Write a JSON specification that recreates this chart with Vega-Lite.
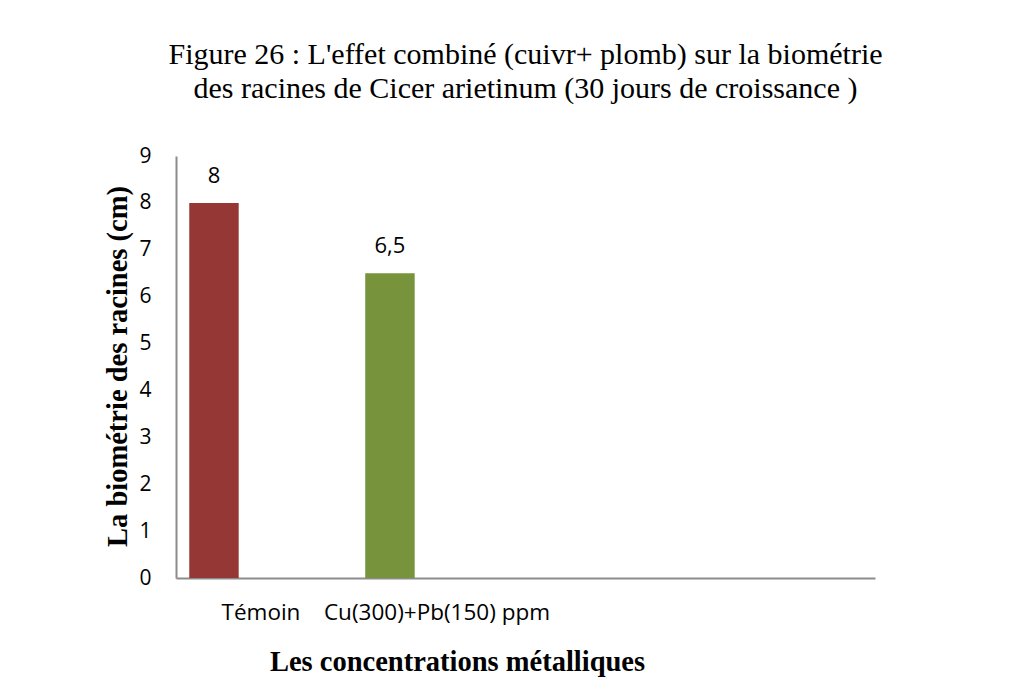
{
  "$schema": "https://vega.github.io/schema/vega-lite/v6.json",
  "width": 699,
  "height": 422,
  "autosize": {"type": "none"},
  "padding": {"left": 176, "top": 156, "right": 153, "bottom": 99},
  "background": "white",
  "config": {
    "view": {"stroke": null},
    "locale": {"number": {"decimal": ",", "thousands": " ", "grouping": [3], "currency": ["", " €"]}}
  },
  "title": {
    "text": ["Figure 26 : L'effet combiné (cuivr+ plomb) sur la biométrie", "des racines de Cicer arietinum (30  jours de croissance )"],
    "font": "Liberation Serif",
    "fontSize": 30,
    "fontWeight": "normal",
    "color": "black",
    "anchor": "middle",
    "lineHeight": 34,
    "offset": 41
  },
  "data": {
    "values": [
      {"traitement": "Témoin", "biometrie": 8},
      {"traitement": "Cu(300)+Pb(150) ppm", "biometrie": 6.5}
    ]
  },
  "encoding": {
    "x": {
      "field": "traitement",
      "type": "nominal",
      "sort": null,
      "scale": {"domain": ["Témoin", "Cu(300)+Pb(150) ppm", " ", "  "], "paddingInner": 0.719, "paddingOuter": 0.3455, "align": 0.109},
      "axis": {
        "title": "Les concentrations métalliques",
        "titleFont": "Liberation Serif",
        "titleFontSize": 28.5,
        "titleFontWeight": "bold",
        "titleColor": "black",
        "titleX": 281,
        "titleY": 92,
        "titleBaseline": "alphabetic",
        "titleAlign": "center",
        "labelAngle": 0,
        "labelFont": "Open Sans",
        "labelFontSize": 22.5,
        "labelColor": "black",
        "labelOffset": 47,
        "labelPadding": 23,
        "labelLimit": 0,
        "ticks": false,
        "domainColor": "#8c8c8c",
        "domainWidth": 2
      }
    },
    "y": {
      "field": "biometrie",
      "type": "quantitative",
      "scale": {"domain": [0, 9]},
      "axis": {
        "title": "La biométrie des racines (cm)",
        "titleFont": "Liberation Serif",
        "titleFontSize": 28.5,
        "titleFontWeight": "bold",
        "titleColor": "black",
        "titleX": -50,
        "titleY": 210,
        "titleBaseline": "alphabetic",
        "titleAlign": "center",
        "titleAngle": -90,
        "values": [0, 1, 2, 3, 4, 5, 6, 7, 8, 9],
        "labelFont": "Open Sans",
        "labelFontSize": 21,
        "labelColor": "black",
        "labelPadding": 25,
        "ticks": false,
        "grid": false,
        "domainColor": "#8c8c8c",
        "domainWidth": 2
      }
    }
  },
  "layer": [
    {
      "mark": {"type": "bar"},
      "encoding": {
        "color": {
          "field": "traitement",
          "type": "nominal",
          "scale": {"domain": ["Témoin", "Cu(300)+Pb(150) ppm"], "range": ["#953735", "#77933C"]},
          "legend": null
        }
      }
    },
    {
      "mark": {"type": "text", "font": "Open Sans", "fontSize": 22, "color": "black", "baseline": "alphabetic", "dy": -20},
      "encoding": {
        "text": {"field": "biometrie", "type": "quantitative", "format": "~g"}
      }
    }
  ]
}
